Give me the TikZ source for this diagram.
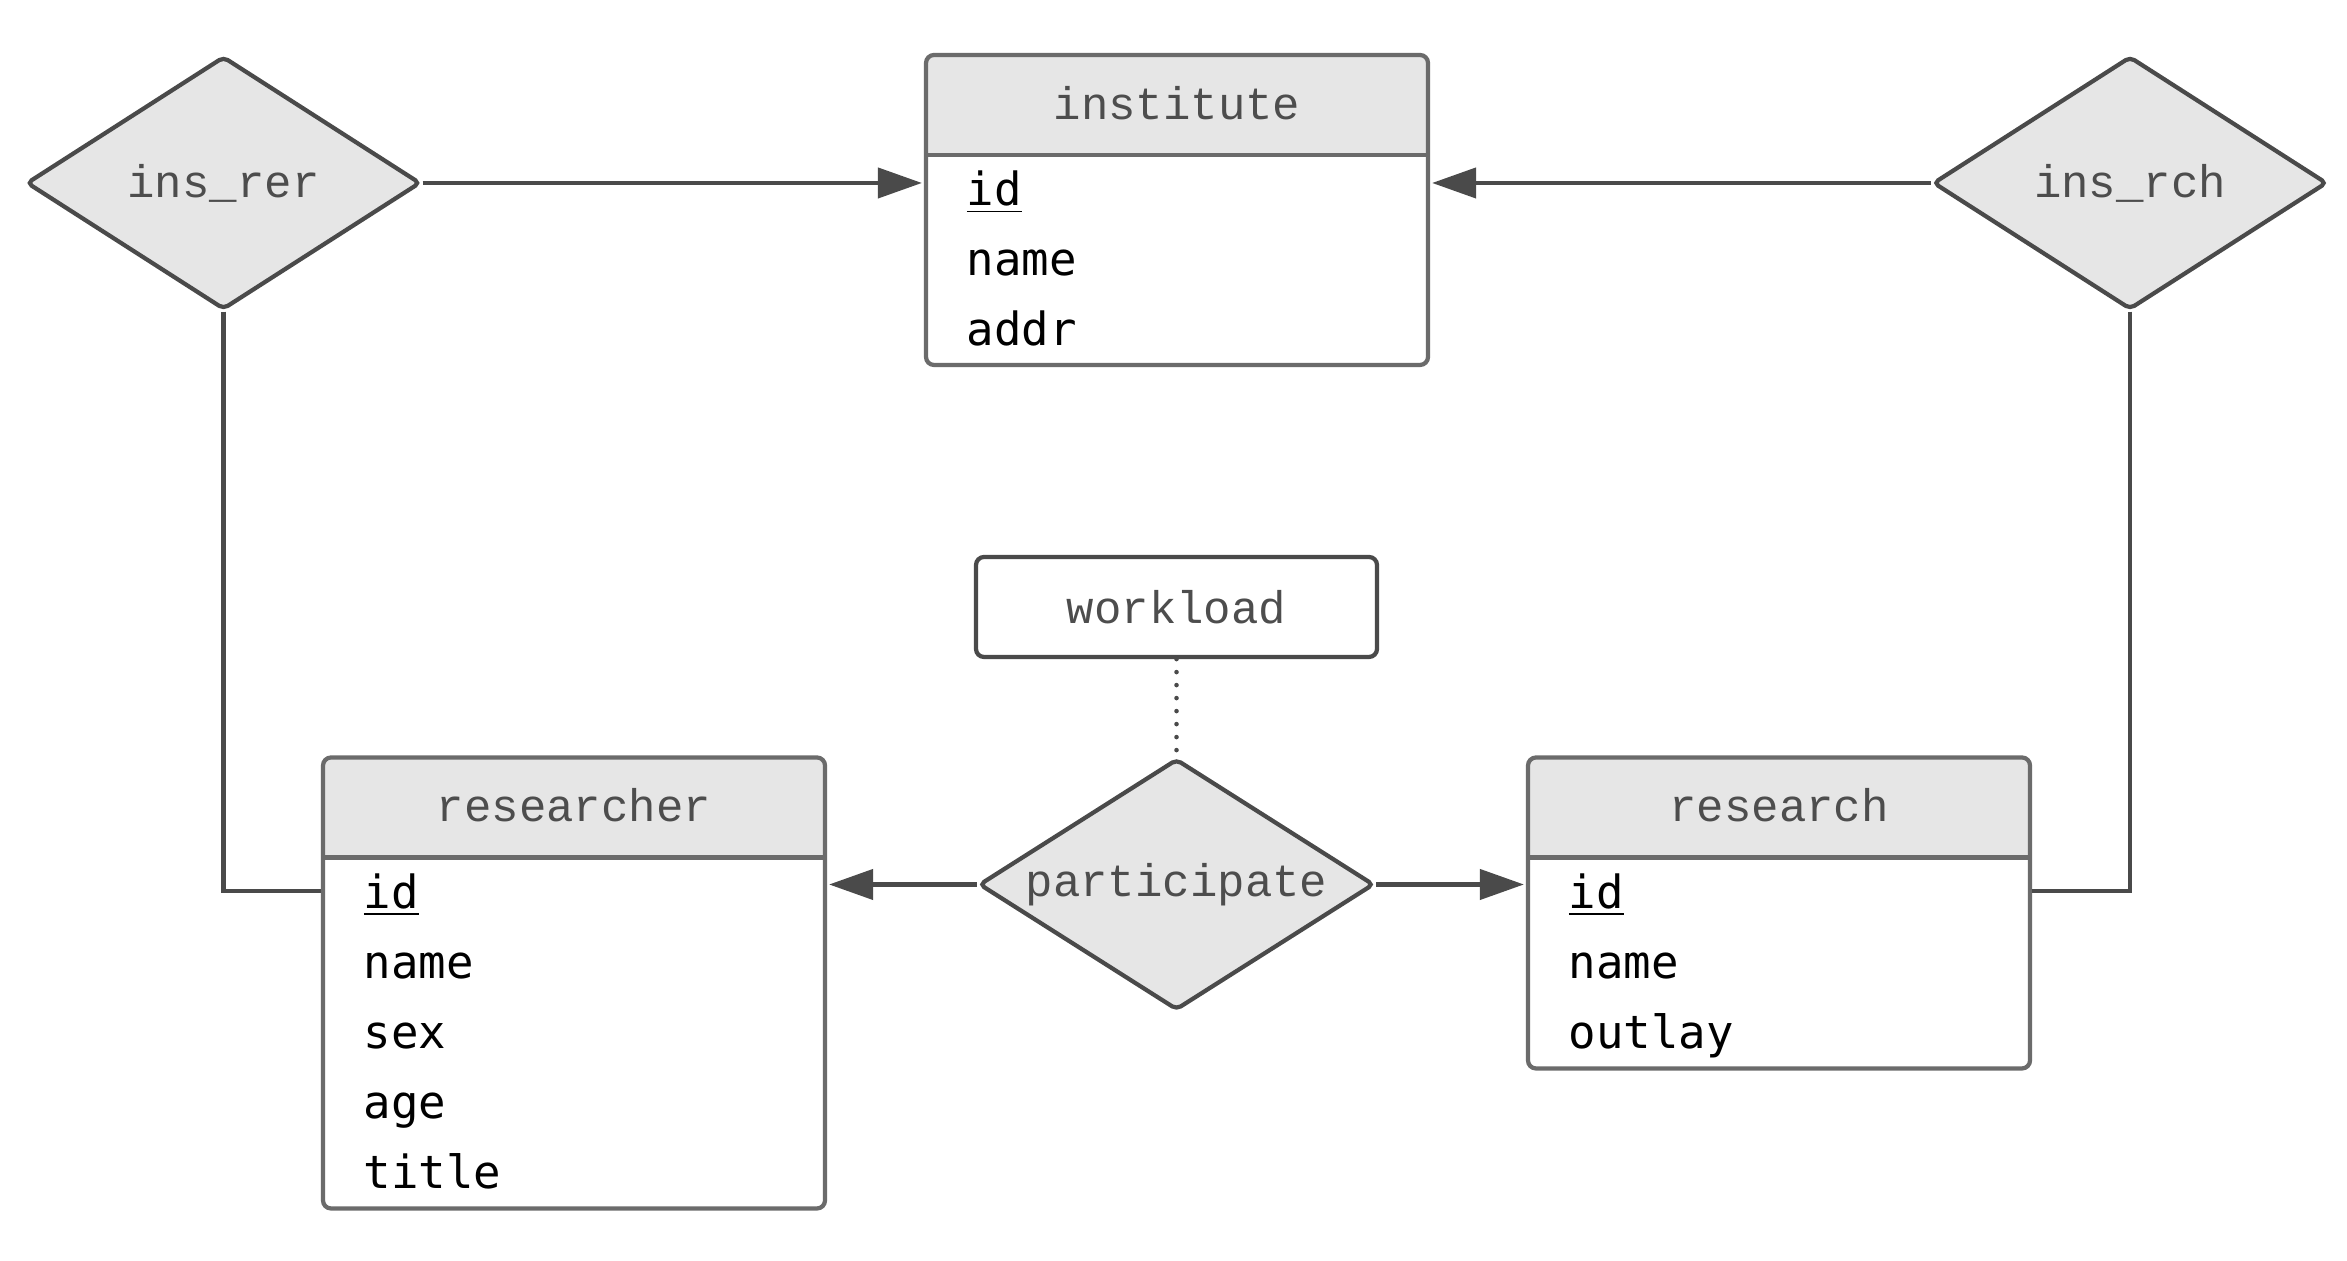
\documentclass[tikz,border=0pt]{standalone}
\usepackage{fontspec}
\setmonofont{DejaVu Sans Mono}
\newfontfamily\labelfont{Liberation Mono}
\usetikzlibrary{shapes.geometric, arrows.meta, positioning}
\definecolor{linegray}{HTML}{4A4A4A}
\definecolor{boxgray}{HTML}{6B6B6B}
\definecolor{headfill}{HTML}{E6E6E6}
\definecolor{labeltext}{HTML}{4D4D4D}

\begin{document}
\begin{tikzpicture}[
            x=0.1mm, y=0.1mm,
            entity/.style={rectangle, draw=boxgray, fill=white, rounded corners=0.08cm,
                        minimum width=5.02cm, line width=1.2pt, inner sep=0pt,
                        path picture={
                            \fill[headfill, sharp corners] (path picture bounding box.north west)
                                rectangle ([yshift=-1cm]path picture bounding box.north east);
                            \draw[boxgray, line width=1.2pt, sharp corners] ([yshift=-1cm]path picture bounding box.north west)
                                -- ([yshift=-1cm]path picture bounding box.north east);}},
            head/.style={font=\labelfont\fontsize{13}{15}\selectfont, text=labeltext},
            attr/.style={font=\ttfamily\fontsize{13}{16}\selectfont, text width=4.3cm, align=left,
                        minimum height=0.70cm, inner sep=0pt, outer sep=0pt, text height=1.7ex, text depth=0.5ex},
            relation/.style={diamond, aspect=1.57, draw=linegray, fill=headfill, line width=1.2pt,
                        rounded corners=0.05cm, inner sep=0pt, minimum width=3.94cm, minimum height=2.53cm,
                        font=\labelfont\fontsize{13}{15}\selectfont, text=labeltext},
            attrbox/.style={rectangle, draw=linegray, fill=white, line width=1.2pt, rounded corners=0.08cm,
                        minimum width=4.01cm, minimum height=1cm,
                        font=\labelfont\fontsize{13}{15}\selectfont, text=labeltext},
            conn/.style={draw=linegray, line width=1.2pt},
            arrow/.style={conn, -{Triangle[length=0.44cm, width=0.30cm]}, shorten >=0.02cm}
        ]
            \useasboundingbox (0,0) rectangle (2347,1261);

            % entities
            \node[entity, minimum height=3.1cm] (institute) at (1177,1051) {};
            \node[head] (inst-head) at ([yshift=-0.5cm]institute.north) {institute};
            \node[attr, anchor=north west] (inst-id) at ([xshift=0.43cm,yshift=-1.09cm]institute.north west) {\underline{id}};
            \node[attr, below=0pt of inst-id] (inst-name) {name};
            \node[attr, below=0pt of inst-name] (inst-addr) {addr};

            \node[entity, minimum height=4.51cm] (researcher) at (574,278) {};
            \node[head] (res-head) at ([yshift=-0.5cm]researcher.north) {researcher};
            \node[attr, anchor=north west] (res-id) at ([xshift=0.43cm,yshift=-1.09cm]researcher.north west) {\underline{id}};
            \node[attr, below=0pt of res-id] (res-name) {name};
            \node[attr, below=0pt of res-name] (res-sex) {sex};
            \node[attr, below=0pt of res-sex] (res-age) {age};
            \node[attr, below=0pt of res-age] (res-title) {title};

            \node[entity, minimum height=3.11cm] (research) at (1779,348) {};
            \node[head] (rch-head) at ([yshift=-0.5cm]research.north) {research};
            \node[attr, anchor=north west] (rch-id) at ([xshift=0.43cm,yshift=-1.09cm]research.north west) {\underline{id}};
            \node[attr, below=0pt of rch-id] (rch-name) {name};
            \node[attr, below=0pt of rch-name] (rch-outlay) {outlay};

            % relations
            \node[relation] (insrer) at (223.5,1078) {ins\_rer};
            \node[relation] (insrch) at (2130,1078) {ins\_rch};
            \node[relation, minimum width=3.95cm, minimum height=2.51cm] (participate) at (1176.5,376.5) {participate};
            \node[attrbox] (workload) at (1176.5,654) {workload};

            \draw[arrow] (insrer.east) -- (insrer.east -| institute.west);
            \draw[arrow] (insrch.west) -- (insrch.west -| institute.east);
            \draw[conn] (insrer.south) |- ([yshift=0.08cm]researcher.west |- res-id);
            \draw[conn] (insrch.south) |- ([yshift=0.08cm]research.east |- rch-id);
            \draw[arrow] (participate.west) -- (participate.west -| researcher.east);
            \draw[arrow] (participate.east) -- (participate.east -| research.west);

            % relationship attribute
            \draw[conn, dash pattern=on 0pt off 0.13cm, line cap=round, line width=1.3pt] (workload) -- (participate);
        \end{tikzpicture}
\end{document}
